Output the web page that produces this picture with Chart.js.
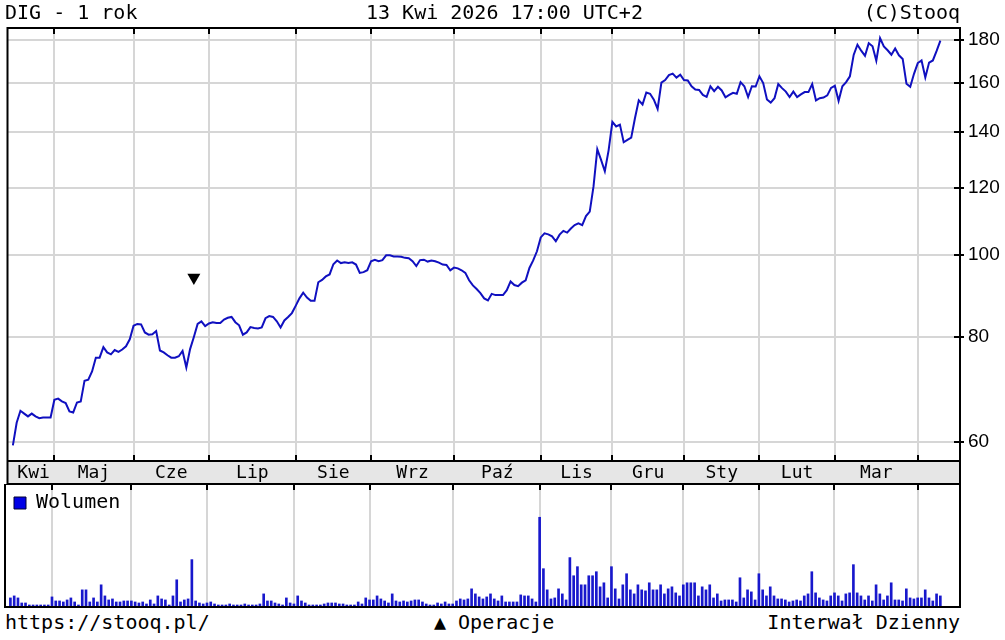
<!DOCTYPE html>
<html lang="pl">
<head>
<meta charset="utf-8">
<title>DIG - 1 rok</title>
<script src="https://cdn.jsdelivr.net/npm/chart.js@4.4.1/dist/chart.umd.min.js"></script>
<style>
  html, body { margin: 0; padding: 0; background: #fff; }
  body { width: 1005px; height: 640px; position: relative; overflow: hidden; font-family: "DejaVu Sans Mono", monospace; color: #000; }
  canvas { position: absolute; left: 0; }
  #priceChart { top: 0; }
  #volumeChart { top: 484px; }
  .txt { position: absolute; font-size: 20px; line-height: 24px; white-space: pre; z-index: 2; }
</style>
</head>
<body>
<canvas id="priceChart" width="1005" height="484"></canvas>
<canvas id="volumeChart" width="1005" height="124"></canvas>
<div class="txt" style="left:5px;top:0">DIG - 1 rok</div>
<div class="txt" style="left:366px;top:0">13 Kwi 2026 17:00 UTC+2</div>
<div class="txt" style="right:45px;top:0">(C)Stooq</div>
<div class="txt" style="left:5px;top:610px">https://stooq.pl/</div>
<div class="txt" style="left:434px;top:610px">▲ Operacje</div>
<div class="txt" style="right:45px;top:610px">Interwał Dzienny</div>
<script>
// months shown on the axis and number of sessions in each one
const monthNames = ['Kwi', 'Maj', 'Cze', 'Lip', 'Sie', 'Wrz', 'Paź', 'Lis', 'Gru', 'Sty', 'Lut', 'Mar', ''];
const monthSessions = [11, 21, 20, 23, 20, 22, 23, 19, 19, 20, 20, 22, 7];

const priceTicks = [60, 80, 100, 120, 140, 160, 180];

// daily close, one value per session
const closes = [
  59.4, 63.2, 65.3, 64.8, 64.3, 64.8, 64.3, 64.0, 64.1, 64.1, 64.1,
  67.3, 67.5, 67.0, 66.7, 65.2, 65.0, 66.8, 67.0, 70.9, 71.1,
  72.7, 75.5, 75.5, 77.7, 76.6, 76.2, 77.1, 76.7, 77.2, 77.9, 79.4,
  82.4, 82.8, 82.7, 80.9, 80.4, 80.5, 81.2, 77.0, 76.6, 76.0, 75.5, 75.5, 75.8, 76.9, 73.5, 77.3, 79.9, 82.8, 83.4, 82.3,
  82.9, 83.2, 83.0, 83.0, 83.8, 84.2, 84.4, 83.2, 82.5, 80.4, 80.9, 82.1, 81.9, 81.8, 82.0, 84.1, 84.6, 84.4, 83.4, 82.0, 83.6, 84.4, 85.3,
  87.0, 88.8, 90.2, 89.0, 88.2, 88.2, 92.8, 93.4, 94.3, 94.8, 97.5, 98.5, 97.8, 98.0, 97.8, 98.0, 97.4, 95.2, 95.4, 95.9,
  98.3, 98.7, 98.3, 98.6, 99.9, 99.9, 99.6, 99.6, 99.5, 99.2, 99.1, 98.3, 97.0, 98.6, 98.7, 98.2, 98.5, 98.3, 97.9, 97.4, 97.3, 95.9,
  96.6, 96.4, 95.9, 95.2, 93.3, 92.0, 91.1, 90.1, 88.8, 88.3, 89.9, 89.6, 89.6, 89.6, 90.8, 93.0, 92.1, 91.8, 92.7, 93.3, 96.5, 98.5, 101.0,
  104.9, 106.1, 105.8, 105.2, 103.8, 105.7, 106.8, 106.3, 107.5, 108.5, 109.0, 108.5, 111.2, 112.6, 120.6, 133.5, 129.7, 125.7, 133.1,
  143.9, 142.1, 142.8, 136.1, 137.0, 137.8, 145.4, 152.6, 150.9, 155.9, 155.4, 152.9, 149.1, 160.2, 161.3, 163.5, 164.2, 162.4, 163.7,
  161.3, 161.1, 158.6, 157.2, 157.0, 154.9, 154.1, 158.6, 156.5, 158.4, 156.8, 153.9, 154.9, 155.8, 155.4, 160.4, 158.6, 154.0, 158.6, 158.5,
  163.0, 160.0, 153.0, 151.7, 153.5, 159.6, 157.8, 156.3, 154.0, 156.3, 154.0, 155.1, 156.1, 156.1, 159.6, 152.6, 153.5, 153.8, 154.7, 157.9,
  158.8, 152.4, 158.6, 160.4, 163.0, 172.8, 177.7, 174.8, 172.4, 178.4, 176.9, 170.1, 180.9, 176.9, 175.0, 172.9, 175.9, 172.6, 170.9, 159.7, 158.4, 164.1,
  169.0, 170.2, 162.5, 169.2, 170.2, 174.7, 179.7
];

// daily volume (relative units)
const volumes = [
  9, 11, 9, 4, 4,
  2, 2, 2, 2, 2, 2,
  10, 6, 6, 5, 7, 9, 5, 2, 17, 17,
  5, 9, 5, 22, 11, 7, 8, 5, 5, 6,
  6, 6, 5, 4, 5, 3, 7, 3, 11, 8,
  7, 2, 11, 27, 5, 7, 8, 47, 6, 4,
  3, 4, 5, 3, 2, 2, 2, 3, 2, 2,
  2, 3, 2, 2, 2, 3, 13, 6, 6, 4,
  3, 2, 9, 4, 3, 11, 6, 4, 2, 2,
  2, 2, 3, 4, 4, 4, 3, 3, 2, 2,
  2, 5, 3, 9, 7, 7, 11, 8, 6, 4,
  13, 6, 5, 6, 5, 6, 7, 7, 5, 3,
  2, 2, 4, 3, 5, 3, 3, 6, 8, 7,
  8, 18, 13, 10, 8, 10, 13, 8, 6, 11,
  5, 5, 5, 5, 12, 11, 11, 8, 5,
  89, 38, 17, 8, 9, 18, 13, 7, 49, 31,
  40, 22, 22, 31, 31, 35, 20, 24, 9, 40,
  18, 8, 22, 33, 17, 13, 22, 17, 16, 24,
  17, 17, 22, 13, 18, 20, 14, 11, 22, 24,
  24, 24, 11, 20, 17, 22, 9, 13, 6, 7,
  7, 7, 5, 29, 9, 17, 15, 7, 33, 17,
  11, 20, 11, 8, 8, 7, 5, 6, 7, 6,
  11, 13, 35, 14, 9, 7, 6, 11, 14, 11,
  6, 13, 14, 42, 14, 11, 7, 11, 6, 22,
  13, 7, 11, 24, 7, 7, 6, 18, 9, 8,
  9, 9, 17, 9, 6, 13, 11
];

// operation marker (session index, level)
const operationDay = 48;
const operationLevel = 94;

const lineColor = '#1010c0';
const barColor = '#1818cc';
const gridColor = '#d6d6d6';
const bandColor = '#e6e6e6';
const xMin = -1.43, xMax = 251.2;

const monthStarts = [];
monthSessions.reduce((acc, n) => { monthStarts.push(acc); return acc + n; }, 0);
const sessionCount = monthSessions.reduce((a, b) => a + b, 0);

function monthTicks(withLabels) {
  const t = [];
  monthStarts.forEach((s, i) => {
    if (i > 0) t.push({ value: s, kind: 'b', name: '' });
    const end = i + 1 < monthStarts.length ? monthStarts[i + 1] : sessionCount;
    if (withLabels && monthNames[i]) t.push({ value: (s + end) / 2, kind: 'm', name: monthNames[i] });
  });
  return t.sort((a, b) => a.value - b.value);
}

const pricePanel = {
  id: 'pricePanel',
  beforeDraw(chart) {
    const { ctx, chartArea: a, scales: { x } } = chart;
    ctx.save();
    ctx.fillStyle = bandColor;
    ctx.fillRect(a.left, a.bottom, a.right - a.left, x.bottom - a.bottom);
    ctx.restore();
  },
  afterDraw(chart) {
    const { ctx, chartArea: a, scales: { x, y } } = chart;
    ctx.save();
    ctx.strokeStyle = '#000';
    ctx.lineWidth = 2;
    ctx.strokeRect(a.left, a.top, a.right - a.left, x.bottom - a.top);
    ctx.beginPath();
    ctx.moveTo(a.left, a.bottom); ctx.lineTo(a.right, a.bottom);
    x.ticks.filter(t => t.kind === 'b').forEach(t => {
      const px = Math.round(x.getPixelForValue(t.value));
      ctx.moveTo(px, a.top); ctx.lineTo(px, a.top + 6);
      ctx.moveTo(px, a.bottom - 6); ctx.lineTo(px, a.bottom);
    });
    y.ticks.forEach(t => {
      const py = Math.round(y.getPixelForValue(t.value));
      ctx.moveTo(a.right - 6, py); ctx.lineTo(a.right + 4, py);
    });
    ctx.stroke();
    ctx.restore();
  }
};

const volumePanel = {
  id: 'volumePanel',
  afterDraw(chart) {
    const { ctx, chartArea: a, scales: { x } } = chart;
    ctx.save();
    ctx.strokeStyle = '#000';
    ctx.lineWidth = 2;
    ctx.strokeRect(a.left, a.top, a.right - a.left, a.bottom - a.top);
    ctx.beginPath();
    x.ticks.forEach(t => {
      const px = Math.round(x.getPixelForValue(t.value));
      ctx.moveTo(px, a.top); ctx.lineTo(px, a.top + 6);
    });
    ctx.stroke();
    ctx.restore();
  }
};

new Chart(document.getElementById('priceChart'), {
  type: 'line',
  data: {
    datasets: [
      {
        type: 'scatter',
        label: 'Operacje',
        data: [{ x: operationDay, y: operationLevel }],
        pointStyle: 'triangle',
        rotation: 180,
        pointRadius: 7.5,
        backgroundColor: '#000',
        borderWidth: 0
      },
      {
        label: 'DIG',
        data: closes.map((v, i) => ({ x: i, y: v })),
        borderColor: lineColor,
        borderWidth: 2,
        pointRadius: 0,
        tension: 0
      }
    ]
  },
  options: {
    responsive: false,
    animation: false,
    devicePixelRatio: 1,
    layout: { padding: { top: 28, left: 5, right: 0, bottom: 0 } },
    plugins: { legend: { display: false }, tooltip: { enabled: false } },
    scales: {
      x: {
        type: 'linear',
        min: xMin,
        max: xMax,
        afterBuildTicks: s => { s.ticks = monthTicks(true); },
        afterFit: s => { s.height = 23; },
        ticks: {
          autoSkip: false,
          maxRotation: 0,
          padding: 2,
          color: '#000',
          font: { family: 'DejaVu Sans Mono', size: 18 },
          callback: (v, i, ticks) => ticks[i].name
        },
        grid: {
          color: c => (c.tick && c.tick.kind === 'b') ? gridColor : 'rgba(0,0,0,0)',
          lineWidth: 2,
          drawTicks: false
        },
        border: { display: false }
      },
      y: {
        type: 'logarithmic',
        position: 'right',
        min: 56.92,
        max: 186,
        afterBuildTicks: s => { s.ticks = priceTicks.map(v => ({ value: v })); },
        afterFit: s => { s.width = 45; },
        ticks: {
          padding: 8,
          color: '#000',
          font: { family: 'Liberation Sans', size: 19 },
          callback: v => String(v)
        },
        grid: { color: gridColor, lineWidth: 2, drawTicks: false },
        border: { display: false }
      }
    }
  },
  plugins: [pricePanel]
});

new Chart(document.getElementById('volumeChart'), {
  type: 'bar',
  data: {
    datasets: [{
      label: 'Wolumen',
      data: volumes.map((v, i) => ({ x: i, y: v })),
      backgroundColor: barColor,
      borderWidth: 0,
      barThickness: 2
    }]
  },
  options: {
    responsive: false,
    animation: false,
    devicePixelRatio: 1,
    layout: { padding: { top: 0, left: 5, right: 45, bottom: 1 } },
    plugins: {
      tooltip: { enabled: false },
      legend: {
        position: 'chartArea',
        align: 'start',
        labels: {
          boxWidth: 12,
          boxHeight: 12,
          padding: 9,
          color: '#000',
          font: { family: 'DejaVu Sans Mono', size: 20 },
          generateLabels: chart => Chart.defaults.plugins.legend.labels.generateLabels(chart)
            .map(l => Object.assign(l, { fillStyle: '#0000e6', strokeStyle: '#000033', lineWidth: 1 }))
        }
      }
    },
    scales: {
      x: {
        type: 'linear',
        offset: false,
        min: xMin,
        max: xMax,
        afterBuildTicks: s => { s.ticks = monthTicks(false); },
        afterFit: s => { s.height = 0; },
        ticks: { display: false },
        grid: { offset: false, color: gridColor, lineWidth: 2, drawTicks: false },
        border: { display: false }
      },
      y: { display: false, min: 0, max: 122 }
    }
  },
  plugins: [volumePanel]
});
</script>
</body>
</html>
